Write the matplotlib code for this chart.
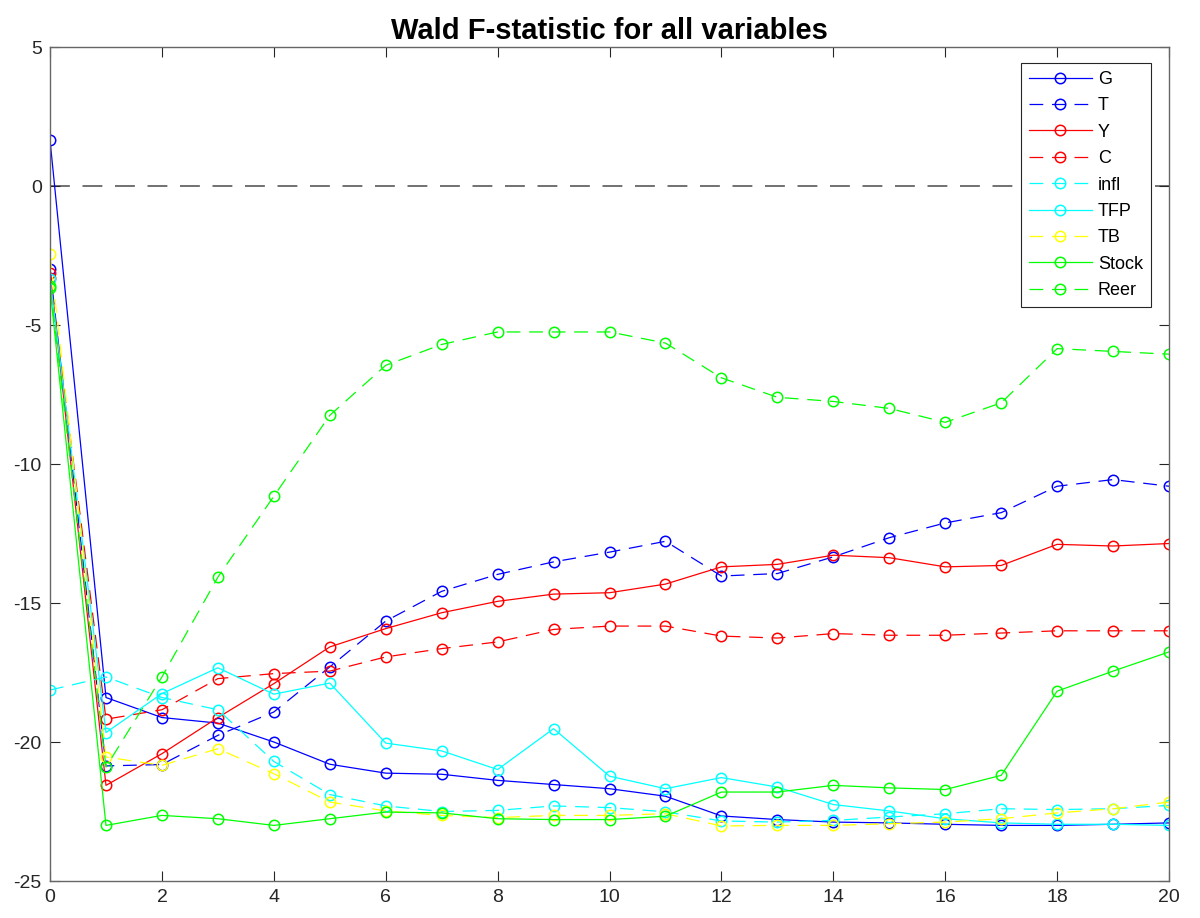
import numpy as np
import matplotlib
matplotlib.use("Agg")
import matplotlib.pyplot as plt

plt.rcParams['font.family'] = ['Liberation Sans', 'DejaVu Sans']
plt.rcParams['axes.unicode_minus'] = False

horizon = np.arange(0, 21)

G = [1.64, -18.4, -19.12, -19.32, -20.0, -20.8, -21.12, -21.16, -21.38, -21.53, -21.68,
     -21.95, -22.66, -22.79, -22.88, -22.91, -22.96, -23.0, -23.0, -22.96, -22.91]
T = [-2.97, -20.86, -20.81, -19.76, -18.92, -17.3, -15.65, -14.58, -13.97, -13.52, -13.17,
     -12.78, -14.03, -13.94, -13.34, -12.65, -12.12, -11.75, -10.8, -10.56, -10.8]
Y = [-3.13, -21.56, -20.42, -19.12, -17.9, -16.58, -15.92, -15.35, -14.94, -14.68, -14.63,
     -14.32, -13.7, -13.61, -13.28, -13.37, -13.7, -13.65, -12.89, -12.95, -12.86]
C = [-3.3, -19.18, -18.84, -17.72, -17.54, -17.45, -16.94, -16.64, -16.4, -15.95, -15.83,
     -15.83, -16.19, -16.26, -16.1, -16.16, -16.16, -16.08, -16.0, -16.0, -16.0]
infl = [-18.13, -17.66, -18.4, -18.84, -20.7, -21.89, -22.3, -22.5, -22.46, -22.3, -22.36,
        -22.51, -22.84, -22.88, -22.82, -22.7, -22.58, -22.4, -22.43, -22.4, -22.28]
TFP = [-3.35, -19.66, -18.26, -17.33, -18.28, -17.88, -20.04, -20.32, -20.99, -19.52, -21.23,
       -21.68, -21.28, -21.62, -22.25, -22.48, -22.76, -22.91, -22.96, -22.96, -23.0]
TB = [-2.46, -20.54, -20.84, -20.24, -21.14, -22.16, -22.48, -22.64, -22.72, -22.64, -22.64,
      -22.58, -23.02, -23.0, -23.0, -22.94, -22.88, -22.76, -22.55, -22.4, -22.16]
Stock = [-3.67, -23.0, -22.64, -22.76, -23.0, -22.76, -22.52, -22.55, -22.76, -22.79, -22.79,
         -22.67, -21.8, -21.8, -21.56, -21.65, -21.71, -21.2, -18.17, -17.45, -16.76]
Reer = [-3.6, -20.9, -17.66, -14.07, -11.16, -8.25, -6.45, -5.7, -5.25, -5.25, -5.25,
        -5.65, -6.9, -7.6, -7.75, -8.0, -8.5, -7.8, -5.85, -5.95, -6.05]

series = [("G", G, "b", "-"), ("T", T, "b", "--"), ("Y", Y, "r", "-"), ("C", C, "r", "--"),
          ("infl", infl, "c", "--"), ("TFP", TFP, "c", "-"), ("TB", TB, "y", "--"),
          ("Stock", Stock, "g", "-"), ("Reer", Reer, "g", "--")]
colors = {"b": (0, 0, 1), "r": (1, 0, 0), "c": (0, 1, 1), "y": (1, 1, 0), "g": (0, 1, 0)}

fig = plt.figure(figsize=(12, 9.18), dpi=100)
ax = fig.add_axes([0.0417, 0.0403, 0.9325, 0.9085])

# zero reference line
ax.plot([0, 20], [0, 0], color="0.4", lw=1.3, dashes=(11, 7), zorder=1)

for name, vals, c, ls in series:
    line, = ax.plot(horizon, vals, color=colors[c], lw=0.9, marker="o", markersize=7.5,
                    markerfacecolor="none", markeredgewidth=1.1, label=name)
    if ls == "--":
        line.set_dashes((11, 7))

ax.set_xlim(0, 20)
ax.set_ylim(-25, 5)
ax.set_xticks(np.arange(0, 21, 2))
ax.set_yticks(np.arange(-25, 6, 5))
ax.tick_params(direction="in", length=7, width=0.8, top=True, right=True,
               labelsize=14, colors="0.15", pad=6)
for s in ax.spines.values():
    s.set_color("0.4")
    s.set_linewidth(1.0)

ax.set_title("Wald F-statistic for all variables", fontsize=21, fontweight="bold", pad=6)

leg = ax.legend(loc="upper right", bbox_to_anchor=(0.984, 0.981), borderaxespad=0,
                fontsize=13, handlelength=3.5, handletextpad=0.33, labelspacing=0.52,
                borderpad=0.45, fancybox=False, framealpha=1, edgecolor="0.15")
leg.get_frame().set_linewidth(0.8)

fig.savefig("out.png", dpi=100)
